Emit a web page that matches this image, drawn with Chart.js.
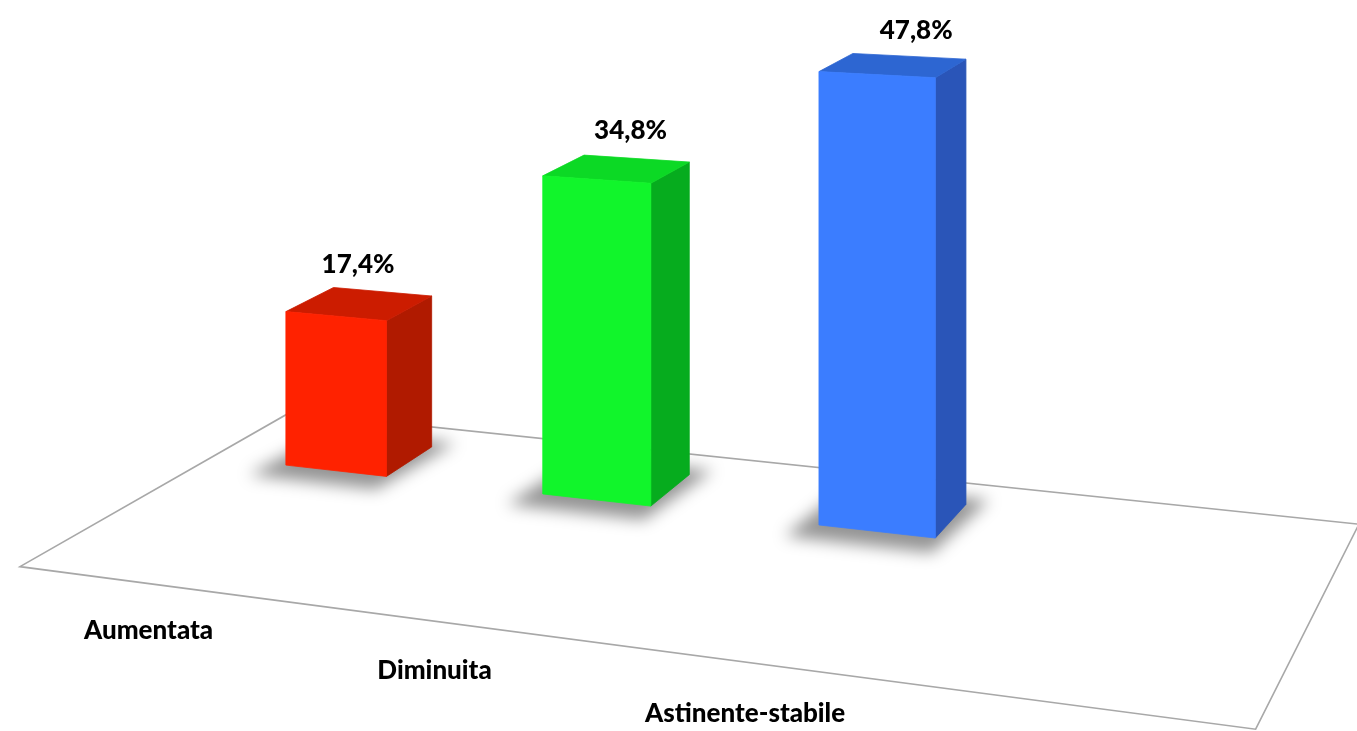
<!DOCTYPE html>
<html><head><meta charset="utf-8">
<script src="https://cdn.jsdelivr.net/npm/chart.js@4.4.1/dist/chart.umd.min.js"></script>
<style>html,body{margin:0;padding:0;background:#fff;}#wrap{width:1357px;height:731px;position:relative;}</style>
</head><body><div id="wrap"><canvas id="c"></canvas></div>
<script>
// ---- data ----
const categories = ['Aumentata', 'Diminuita', 'Astinente-stabile'];
const values = [17.4, 34.8, 47.8];
const valueLabels = ['17,4%', '34,8%', '47,8%'];
// ---- colours ----
const frontColors = ['#FF2200', '#11F52B', '#3B7DFF'];
const sideColors = ['#B01A00', '#06AC1E', '#2A55B8'];
const topColors = ['#CC1C00', '#0CD925', '#2D66D2'];

// ---- 3D view (camera) settings ----
const VIEW = {
  vx: [-6800, -330.7],   // vanishing point of the category direction
  vz: [1870, -490],      // vanishing point of the depth direction
  origin: [285, 465],    // screen position of the scene origin
  unitPx: 8.82,          // px per value unit at origin depth
  k0: -0.00712, kStep: 0.03498,
  depth: 0.031,          // bar depth
  floorFront: -0.105, floorBack: 0.05, floorExtraRight: 0.97,
  labelDepth: -0.108, labelV: -4.3,
  valueDepth0: 0.0146, valueDepthStep: 0.0118, valueLift0: 4.6, valueLiftStep: -1.1
};
function proj(u, v, n) {
  const k = VIEW.k0 - VIEW.kStep * u;
  const w = 1 + k + n;
  return [
    (k * VIEW.vx[0] + n * VIEW.vz[0] + VIEW.origin[0]) / w,
    (k * VIEW.vx[1] + n * VIEW.vz[1] + VIEW.origin[1] - VIEW.unitPx * v) / w
  ];
}
function poly(ctx, pts, fill, stroke) {
  ctx.beginPath();
  pts.forEach((p, i) => i ? ctx.lineTo(p[0], p[1]) : ctx.moveTo(p[0], p[1]));
  ctx.closePath();
  if (fill) { ctx.fillStyle = fill; ctx.fill(); }
  if (stroke) { ctx.strokeStyle = stroke; ctx.stroke(); }
}

const bars3d = {
  id: 'bars3d',
  beforeDatasetsDraw(chart) {
    const ctx = chart.ctx;
    const xs = chart.scales.x, ys = chart.scales.y;
    const p0 = xs.getPixelForValue(0);
    const step = xs.getPixelForValue(1) - p0;
    const toU = px => (px - p0) / step;
    const meta = chart.getDatasetMeta(0);
    const D = VIEW.depth;

    // floor
    const uMin = toU(xs.left), uMax = toU(xs.right) + VIEW.floorExtraRight;
    ctx.save();
    ctx.lineWidth = 1.6;
    ctx.lineJoin = 'miter';
    poly(ctx, [proj(uMin, 0, VIEW.floorFront), proj(uMin, 0, VIEW.floorBack),
               proj(uMax, 0, VIEW.floorBack), proj(uMax, 0, VIEW.floorFront)], '#FFFFFF', '#A8A8A8');
    ctx.restore();

    const geo = meta.data.map(bar => ({
      uL: toU(bar.x - bar.width / 2), uR: toU(bar.x + bar.width / 2), uC: toU(bar.x),
      v0: ys.getValueForPixel(bar.base), v1: ys.getValueForPixel(bar.y)
    }));

    // soft shadows on the floor
    ctx.save();
    ctx.filter = 'blur(8px)';
    geo.forEach(g => {
      poly(ctx, [proj(g.uL - 0.07, g.v0, -0.012), proj(g.uR + 0.03, g.v0, -0.012),
                 proj(g.uR + 0.06, g.v0, D + 0.006), proj(g.uL - 0.04, g.v0, D + 0.006)], 'rgba(0,0,0,0.42)');
    });
    ctx.restore();

    // bars
    ctx.save();
    ctx.lineWidth = 0.8;
    ctx.lineJoin = 'round';
    geo.forEach((g, i) => {
      const side = [proj(g.uR, g.v0, 0), proj(g.uR, g.v0, D), proj(g.uR, g.v1, D), proj(g.uR, g.v1, 0)];
      const top = [proj(g.uL, g.v1, 0), proj(g.uR, g.v1, 0), proj(g.uR, g.v1, D), proj(g.uL, g.v1, D)];
      const front = [proj(g.uL, g.v0, 0), proj(g.uR, g.v0, 0), proj(g.uR, g.v1, 0), proj(g.uL, g.v1, 0)];
      poly(ctx, side, sideColors[i], sideColors[i]);
      poly(ctx, top, topColors[i], topColors[i]);
      poly(ctx, front, frontColors[i], frontColors[i]);
    });
    ctx.restore();

    // labels
    ctx.save();
    ctx.fillStyle = '#000';
    ctx.font = '900 26px Lato, "Open Sans", sans-serif';
    ctx.textAlign = 'center';
    ctx.textBaseline = 'middle';
    geo.forEach((g, i) => {
      const n = VIEW.valueDepth0 + VIEW.valueDepthStep * g.uC;
      const lift = VIEW.valueLift0 + VIEW.valueLiftStep * g.uC;
      const p = proj(g.uC, g.v1 + lift, n);
      ctx.fillText(valueLabels[i], p[0], p[1]);
      const q = proj(g.uC, VIEW.labelV, VIEW.labelDepth);
      ctx.fillText(categories[i], q[0], q[1]);
    });
    ctx.restore();
    return false;
  }
};

new Chart(document.getElementById('c'), {
  type: 'bar',
  data: {
    labels: categories,
    datasets: [{ label: 'Percentuale', data: values, backgroundColor: frontColors,
                 barPercentage: 0.4, categoryPercentage: 1.0 }]
  },
  options: {
    responsive: true, maintainAspectRatio: false, animation: false,
    devicePixelRatio: 1,
    plugins: { legend: { display: false }, tooltip: { enabled: false } },
    scales: {
      x: { display: false, offset: true },
      y: { display: false, min: 0, max: 50 }
    }
  },
  plugins: [bars3d]
});
</script></body></html>
